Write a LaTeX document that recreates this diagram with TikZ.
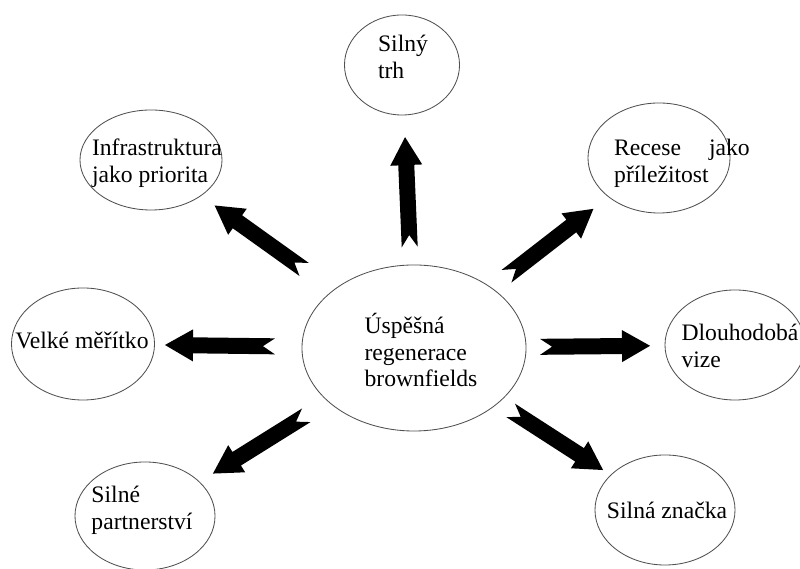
\documentclass[tikz,border=0pt]{standalone}
\usepackage{fontspec}
\setmainfont{Liberation Serif}
\usetikzlibrary{calc,shapes.geometric}
\definecolor{rimGray}{HTML}{505050}
\tikzset{
    bubble/.style={
        ellipse,
        draw=rimGray,
        line width=0.6pt,
        inner sep=0pt,
        minimum width=3.5cm,
        minimum height=2.75cm
    },
    caption/.style={
        align=left,
        inner sep=0pt,
        font=\fontsize{16.8}{19}\selectfont
    },
    fatarrow/.style={
        fill=black,
        to path={
            ($(\tikztostart)!0.2cm!90:(\tikztotarget)$)
            -- ($(\tikztotarget)!0.7cm!(\tikztostart)!0.2cm!90:(\tikztotarget)$)
            -- ($(\tikztotarget)!0.7cm!(\tikztostart)!0.4cm!90:(\tikztotarget)$)
            -- (\tikztotarget)
            -- ($(\tikztotarget)!0.7cm!(\tikztostart)!0.4cm!-90:(\tikztotarget)$)
            -- ($(\tikztotarget)!0.7cm!(\tikztostart)!0.2cm!-90:(\tikztotarget)$)
            -- ($(\tikztostart)!0.2cm!-90:(\tikztotarget)$)
            -- ($(\tikztostart)!0.3cm!(\tikztotarget)$)
            -- cycle
        }
    }
}

\begin{document}
\begin{tikzpicture}[x=0.025cm,y=0.025cm]
    \useasboundingbox (0,0) rectangle (800,569);
    \clip (0,0) rectangle (800,569);

    % ellipses
    \node[bubble, minimum width=5.6cm, minimum height=4.15cm] (hub) at (414,221) {};
    \node[bubble, minimum width=2.875cm, minimum height=2.5cm] (trh) at (402,504) {};
    \node[bubble, minimum width=3.55cm, minimum height=2.5cm] (infra) at (151,409) {};
    \node[bubble, minimum width=3.55cm] (recese) at (659,411) {};
    \node[bubble, minimum width=3.575cm, minimum height=2.8cm] (velke) at (83,225) {};
    \node[bubble] (dlouho) at (735,224) {};
    \node[bubble, minimum height=2.7cm] (partn) at (145,53) {};
    \node[bubble] (znacka) at (665,59) {};

    % texts
    \node[caption] (hub-text) at ([shift={(7,-2)}]hub.center)
        {Úspěšná\\regenerace\\brownfields};
    \node[caption] (trh-text) at ([shift={(1,8)}]trh.center) {Silný\\trh};
    \node[caption] (infra-text) at ([shift={(6,-3)}]infra.center)
        {Infrastruktura\\jako priorita};
    \node[caption] (recese-text) at ([shift={(23,-5.5)}]recese.center)
        {Recese\hspace{0.7cm}jako\\příležitost};
    \node[caption] (velke-text) at ([shift={(-1,4)}]velke.center) {Velké měřítko};
    \node[caption] (dlouho-text) at ([shift={(5,-1)}]dlouho.center)
        {Dlouhodobá\\vize};
    \node[caption] (partn-text) at ([shift={(-3,6)}]partn.center)
        {Silné\\partnerství};
    \node[caption] (znacka-text) at ([shift={(2,0)}]znacka.center) {Silná značka};

    % block arrows
    \foreach \tgt/\gap in {trh/2.525, infra/3.375, recese/2.925, velke/3.475,
                           dlouho/3.15, partn/3.175, znacka/2.875}{
        \pgfmathsetmacro\tip{\gap+2.75}
        \coordinate (\tgt-tail) at ($(hub)!\gap cm!(\tgt)$);
        \coordinate (\tgt-tip) at ($(hub)!\tip cm!(\tgt)$);
        \fill[fatarrow] (\tgt-tail) to (\tgt-tip);
    }
\end{tikzpicture}
\end{document}
